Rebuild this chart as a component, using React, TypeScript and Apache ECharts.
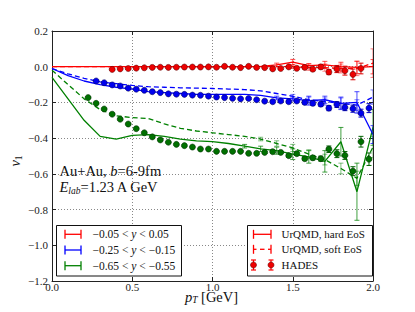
import React, { useEffect, useRef } from 'react';
import * as echarts from 'echarts';

const FONT = 'Liberation Serif, DejaVu Serif, serif';

// Model (UrQMD) pT grid
const modelX = [0, 0.1, 0.2, 0.3, 0.4, 0.5, 0.6, 0.7, 0.8, 0.9, 1.0, 1.1, 1.2, 1.3, 1.4, 1.5, 1.6, 1.7, 1.8, 1.9, 2.0];

const redHard = [0, 0, 0, 0, 0, 0, 0, 0, 0, 0, 0, 0, 0, 0.002, 0.01, 0.026, 0.006, 0.01, 0.0, -0.004, 0.0];
const redHardErr = [0, 0, 0, 0, 0, 0, 0, 0, 0, 0, 0, 0, 0, 0, 0.01, 0.015, 0.012, 0.02, 0.025, 0.035, 0.04];
const redSoft = [0, 0, 0, 0, 0, 0, 0, 0, 0, 0, 0, 0, 0, 0, 0, 0.0, -0.005, -0.005, -0.01, -0.01, 0.02];
const redSoftErr = [0, 0, 0, 0, 0, 0, 0, 0, 0, 0, 0, 0, 0, 0, 0, 0.01, 0.015, 0.02, 0.025, 0.04, 0.08];

const blueHard = [-0.01, -0.05, -0.08, -0.1, -0.115, -0.125, -0.14, -0.145, -0.15, -0.155, -0.155, -0.155, -0.155, -0.16, -0.175, -0.18, -0.19, -0.185, -0.205, -0.2, -0.38];
const blueHardErr = [0, 0, 0, 0, 0, 0, 0, 0, 0, 0, 0, 0, 0, 0, 0.01, 0.012, 0.025, 0.02, 0.035, 0.06, 0.05];
const blueSoft = [-0.01, -0.04, -0.065, -0.085, -0.095, -0.105, -0.112, -0.115, -0.118, -0.12, -0.122, -0.125, -0.128, -0.135, -0.15, -0.165, -0.185, -0.195, -0.205, -0.215, -0.17];
const blueSoftErr = [0, 0, 0, 0, 0, 0, 0, 0, 0, 0, 0, 0, 0, 0, 0, 0.01, 0.015, 0.02, 0.03, 0.03, 0.04];

const greenHard = [-0.06, -0.18, -0.3, -0.39, -0.405, -0.385, -0.38, -0.39, -0.405, -0.415, -0.42, -0.43, -0.445, -0.46, -0.47, -0.49, -0.505, -0.53, -0.42, -0.7, -0.34];
const greenHardErr = [0, 0, 0, 0, 0, 0, 0, 0, 0, 0, 0, 0, 0.01, 0.015, 0.02, 0.03, 0.035, 0.06, 0.08, 0.16, 0.1];
const greenSoft = [-0.02, -0.1, -0.18, -0.24, -0.275, -0.285, -0.29, -0.32, -0.345, -0.36, -0.37, -0.38, -0.39, -0.405, -0.43, -0.455, -0.49, -0.52, -0.57, -0.625, -0.45];
const greenSoftErr = [0, 0, 0, 0, 0, 0, 0, 0, 0, 0, 0, 0, 0, 0.01, 0.015, 0.02, 0.025, 0.03, 0.03, 0.04, 0.06];

// HADES data
const redX = [0.375, 0.425, 0.475, 0.525, 0.575, 0.625, 0.675, 0.725, 0.775, 0.825, 0.875, 0.925, 0.975, 1.025, 1.075, 1.125, 1.175, 1.225, 1.275, 1.325, 1.375, 1.425, 1.475, 1.525, 1.575, 1.625, 1.675, 1.725, 1.775, 1.825, 1.875, 1.925];
const redV = [-0.015, -0.012, -0.01, -0.008, -0.006, -0.004, -0.003, -0.004, -0.003, -0.002, -0.002, -0.002, -0.001, -0.003, 0.002, -0.003, -0.005, 0.002, -0.004, -0.005, -0.012, -0.01, -0.001, -0.009, -0.004, -0.014, -0.001, -0.03, -0.013, -0.022, -0.043, -0.01];
const redE = [0.003, 0.003, 0.003, 0.003, 0.003, 0.003, 0.003, 0.003, 0.003, 0.003, 0.003, 0.003, 0.003, 0.003, 0.003, 0.004, 0.004, 0.004, 0.005, 0.005, 0.006, 0.006, 0.007, 0.008, 0.009, 0.01, 0.012, 0.014, 0.02, 0.025, 0.03, 0.03];

const blueX = [0.275, 0.325, 0.375, 0.425, 0.475, 0.525, 0.575, 0.625, 0.675, 0.725, 0.775, 0.825, 0.875, 0.925, 0.975, 1.025, 1.075, 1.125, 1.175, 1.225, 1.275, 1.325, 1.375, 1.425, 1.475, 1.525, 1.575, 1.625, 1.675, 1.725, 1.775, 1.825, 1.875, 1.925, 1.975];
const blueV = [-0.08, -0.09, -0.102, -0.108, -0.12, -0.126, -0.132, -0.14, -0.145, -0.152, -0.154, -0.155, -0.159, -0.16, -0.165, -0.17, -0.173, -0.177, -0.18, -0.178, -0.185, -0.193, -0.196, -0.192, -0.196, -0.192, -0.2, -0.205, -0.21, -0.232, -0.212, -0.228, -0.235, -0.26, -0.232];
const blueE = [0.004, 0.004, 0.004, 0.004, 0.004, 0.004, 0.004, 0.004, 0.004, 0.004, 0.004, 0.004, 0.004, 0.004, 0.004, 0.004, 0.004, 0.005, 0.005, 0.005, 0.005, 0.006, 0.006, 0.007, 0.008, 0.009, 0.01, 0.011, 0.012, 0.014, 0.016, 0.018, 0.02, 0.022, 0.025];

const greenX = [0.225, 0.275, 0.325, 0.375, 0.425, 0.475, 0.525, 0.575, 0.625, 0.675, 0.725, 0.775, 0.825, 0.875, 0.925, 0.975, 1.025, 1.075, 1.125, 1.175, 1.225, 1.275, 1.325, 1.375, 1.425, 1.475, 1.525, 1.575, 1.625, 1.675, 1.725, 1.775, 1.825, 1.875, 1.925, 1.975];
const greenV = [-0.173, -0.205, -0.237, -0.266, -0.294, -0.321, -0.347, -0.37, -0.393, -0.41, -0.423, -0.435, -0.442, -0.45, -0.461, -0.461, -0.474, -0.474, -0.474, -0.474, -0.485, -0.485, -0.48, -0.476, -0.48, -0.498, -0.487, -0.515, -0.51, -0.515, -0.462, -0.487, -0.497, -0.585, -0.42, -0.518];
const greenE = [0.004, 0.004, 0.004, 0.004, 0.004, 0.004, 0.004, 0.004, 0.004, 0.004, 0.004, 0.004, 0.004, 0.004, 0.004, 0.004, 0.004, 0.005, 0.005, 0.005, 0.005, 0.006, 0.006, 0.007, 0.008, 0.009, 0.01, 0.011, 0.012, 0.014, 0.018, 0.022, 0.022, 0.025, 0.03, 0.035];

const xTicks = { min: 0, max: 2, interval: 0.5 };
const yTicks = { min: -1.2, max: 0.2, interval: 0.2 };

const RED = '#ff0000';
const BLUE = '#0000ff';
const GREEN = '#008000';

function fmt(v: number) {
  const s = Math.abs(v).toFixed(1);
  return (v < -1e-9 ? '\u2212' : '') + s;
}

function errSeries(xs: number[], ys: number[], es: number[], color: string, z: number) {
  const data = xs.map((x, i) => [x, ys[i], es[i]]).filter((d) => d[2] > 0);
  return {
    type: 'custom',
    z,
    clip: true,
    encode: { x: 0, y: 1 },
    data,
    renderItem: (params: any, api: any) => {
      const x = api.value(0);
      const y = api.value(1);
      const e = api.value(2);
      const hi = api.coord([x, y + e]);
      const lo = api.coord([x, y - e]);
      const w = 2.5;
      const st = { stroke: color, lineWidth: 1 };
      return {
        type: 'group',
        children: [
          { type: 'line', shape: { x1: hi[0], y1: hi[1], x2: lo[0], y2: lo[1] }, style: st },
          { type: 'line', shape: { x1: hi[0] - w, y1: hi[1], x2: hi[0] + w, y2: hi[1] }, style: st },
          { type: 'line', shape: { x1: lo[0] - w, y1: lo[1], x2: lo[0] + w, y2: lo[1] }, style: st },
        ],
      };
    },
  };
}

function lineSeries(ys: number[], color: string, dashed: boolean) {
  return {
    type: 'line',
    data: modelX.map((x, i) => [x, ys[i]]),
    symbol: 'none',
    z: 2,
    lineStyle: { color, width: 1.3, type: dashed ? [5, 3] : 'solid' },
  };
}

function dotSeries(xs: number[], ys: number[], color: string, border: string) {
  return {
    type: 'scatter',
    data: xs.map((x, i) => [x, ys[i]]),
    symbol: 'circle',
    symbolSize: 6,
    z: 5,
    itemStyle: { color, borderColor: border, borderWidth: 0.6, opacity: 1 },
  };
}

function capIcon(x1: number, x2: number, y: number, color: string, dashed: boolean) {
  const st = { stroke: color, lineWidth: 1.3 };
  const h = 4.5;
  const els: any[] = [
    { type: 'line', shape: { x1, y1: y - h, x2: x1, y2: y + h }, style: st },
    { type: 'line', shape: { x1: x2, y1: y - h, x2, y2: y + h }, style: st },
  ];
  if (dashed) {
    els.push({ type: 'line', shape: { x1, y1: y, x2: x1 + 3, y2: y }, style: st });
    els.push({ type: 'line', shape: { x1: x1 + 6.5, y1: y, x2: x2 - 6.5, y2: y }, style: st });
    els.push({ type: 'line', shape: { x1: x2 - 3, y1: y, x2, y2: y }, style: st });
  } else {
    els.push({ type: 'line', shape: { x1, y1: y, x2, y2: y }, style: st });
  }
  return els;
}

function dotIcon(x: number, y: number, color: string) {
  const st = { stroke: color, lineWidth: 1.2 };
  return [
    { type: 'line', shape: { x1: x, y1: y - 5, x2: x, y2: y + 5 }, style: st },
    { type: 'line', shape: { x1: x - 2.5, y1: y - 5, x2: x + 2.5, y2: y - 5 }, style: st },
    { type: 'line', shape: { x1: x - 2.5, y1: y + 5, x2: x + 2.5, y2: y + 5 }, style: st },
    { type: 'circle', shape: { cx: x, cy: y, r: 3 }, style: { fill: '#ee0000', stroke: '#600', lineWidth: 0.6 } },
  ];
}

function txt(x: number, y: number, text: string, size: number, extra: any = {}) {
  return {
    type: 'text',
    x,
    y,
    z: 101,
    style: {
      text,
      fontFamily: FONT,
      fontSize: size,
      fill: '#111',
      verticalAlign: 'middle',
      align: 'left',
      ...extra,
    },
  };
}

const italic = (size: number, lh?: number) => ({ fontStyle: 'italic', fontFamily: FONT, fontSize: size, fill: '#111', lineHeight: lh });
const sub = (size: number, isItalic: boolean) => ({
  fontStyle: isItalic ? 'italic' : 'normal',
  fontFamily: FONT,
  fontSize: size,
  fill: '#111',
  lineHeight: 10,
  verticalAlign: 'bottom',
});

const legendRows = [234.3, 250, 265.7];
const legendLeft = ['\u22120.05 < {i|y} < 0.05', '\u22120.25 < {i|y} < \u22120.15', '\u22120.65 < {i|y} < \u22120.55'];
const legendColors = [RED, BLUE, GREEN];
const legendRight = ['UrQMD, hard EoS', 'UrQMD, soft EoS', 'HADES'];

const axisLineStyle = { color: '#222', width: 1 };

const option: any = {
  animation: false,
  backgroundColor: '#fff',
  grid: { left: 52, right: 42, top: 31, bottom: 31, containLabel: false },
  xAxis: [
    {
      type: 'value',
      ...xTicks,
      axisLine: { show: true, onZero: false, lineStyle: axisLineStyle },
      axisTick: { show: true, inside: true, length: 4, lineStyle: axisLineStyle },
      axisLabel: { formatter: fmt, fontFamily: FONT, fontSize: 11, lineHeight: 9, color: '#222', margin: 1 },
      splitLine: { show: true, lineStyle: { type: [1, 2], color: '#888', width: 1 } },
    },
    {
      type: 'value',
      position: 'top',
      ...xTicks,
      axisLine: { show: true, onZero: false, lineStyle: axisLineStyle },
      axisTick: { show: true, inside: true, length: 4, lineStyle: axisLineStyle },
      axisLabel: { show: false },
      splitLine: { show: false },
    },
  ],
  yAxis: [
    {
      type: 'value',
      ...yTicks,
      axisLine: { show: true, onZero: false, lineStyle: axisLineStyle },
      axisTick: { show: true, inside: true, length: 4, lineStyle: axisLineStyle },
      axisLabel: { formatter: fmt, fontFamily: FONT, fontSize: 11, color: '#222', margin: 4 },
      splitLine: { show: true, lineStyle: { type: [1, 2], color: '#888', width: 1 } },
    },
    {
      type: 'value',
      position: 'right',
      ...yTicks,
      axisLine: { show: true, onZero: false, lineStyle: axisLineStyle },
      axisTick: { show: true, inside: true, length: 4, lineStyle: axisLineStyle },
      axisLabel: { show: false },
      splitLine: { show: false },
    },
  ],
  series: [
    lineSeries(greenHard, GREEN, false),
    lineSeries(greenSoft, GREEN, true),
    lineSeries(blueHard, BLUE, false),
    lineSeries(blueSoft, BLUE, true),
    lineSeries(redHard, RED, false),
    lineSeries(redSoft, RED, true),
    errSeries(modelX, greenHard, greenHardErr, 'rgba(0,128,0,0.75)', 3),
    errSeries(modelX, greenSoft, greenSoftErr, 'rgba(0,128,0,0.5)', 3),
    errSeries(modelX, blueHard, blueHardErr, 'rgba(0,0,255,0.7)', 3),
    errSeries(modelX, blueSoft, blueSoftErr, 'rgba(0,0,255,0.5)', 3),
    errSeries(modelX, redHard, redHardErr, 'rgba(255,0,0,0.7)', 3),
    errSeries(modelX, redSoft, redSoftErr, 'rgba(255,0,0,0.5)', 3),
    errSeries(greenX, greenV, greenE, '#006400', 4),
    errSeries(blueX, blueV, blueE, '#0000cc', 4),
    errSeries(redX, redV, redE, '#dd0000', 4),
    dotSeries(greenX, greenV, '#007000', '#003000'),
    dotSeries(blueX, blueV, '#0000ee', '#000060'),
    dotSeries(redX, redV, '#ee0000', '#600000'),
  ],
  graphic: [
    // left legend
    { type: 'rect', z: 100, shape: { x: 56.5, y: 225.5, width: 125, height: 50.5 }, style: { fill: '#fff', stroke: '#111', lineWidth: 1 } },
    ...legendRows.flatMap((y, i) => [
      ...capIcon(65, 81, y, legendColors[i], false).map((e) => ({ ...e, z: 101 })),
      txt(92.5, y, legendLeft[i], 11.5, { rich: { i: italic(11.5) } }),
    ]),
    // right legend
    { type: 'rect', z: 100, shape: { x: 247.5, y: 225.5, width: 125, height: 50.5 }, style: { fill: '#fff', stroke: '#111', lineWidth: 1 } },
    ...capIcon(253.5, 271, legendRows[0], RED, false).map((e) => ({ ...e, z: 101 })),
    ...capIcon(253.5, 271, legendRows[1] - 0.7, RED, true).map((e) => ({ ...e, z: 101 })),
    ...dotIcon(253.5, legendRows[2] - 0.7, RED).map((e) => ({ ...e, z: 101 })),
    ...dotIcon(271, legendRows[2] - 0.7, RED).map((e) => ({ ...e, z: 101 })),
    txt(281.5, legendRows[0], legendRight[0], 11),
    txt(281.5, legendRows[1] - 0.7, legendRight[1], 11),
    txt(281.5, legendRows[2] - 0.7, legendRight[2], 11),
    // annotation
    txt(59.5, 170.5, 'Au+Au, {i|b}=6-9fm', 14.5, { rich: { i: italic(14.5) } }),
    txt(59.5, 187, '{e|E}{s|lab}=1.23 A GeV', 14.5, {
      lineHeight: 17,
      rich: { e: italic(14.5, 17), s: sub(9.5, true) },
    }),
    // x axis title
    txt(211.5, 296.5, '{p|p}{s|T} [GeV]', 14.5, {
      align: 'center',
      lineHeight: 17,
      rich: { p: italic(14.5, 17), s: sub(9.5, true) },
    }),
    // y axis title
    {
      type: 'text',
      x: 15,
      y: 161,
      z: 101,
      rotation: Math.PI / 2,
      style: {
        text: '{v|v}{s|1}',
        fontFamily: FONT,
        fontSize: 14.5,
        fill: '#111',
        align: 'center',
        verticalAlign: 'middle',
        lineHeight: 17,
        rich: { v: italic(14.5, 17), s: sub(9.5, false) },
      },
    },
  ],
};

export default function App() {
  const ref = useRef<HTMLDivElement>(null);
  useEffect(() => {
    document.body.style.margin = '0';
    const chart = echarts.init(ref.current as HTMLDivElement, null, { renderer: 'svg' });
    chart.setOption(option);
    return () => chart.dispose();
  }, []);
  return <div ref={ref} style={{ width: 415, height: 312 }} />;
}
